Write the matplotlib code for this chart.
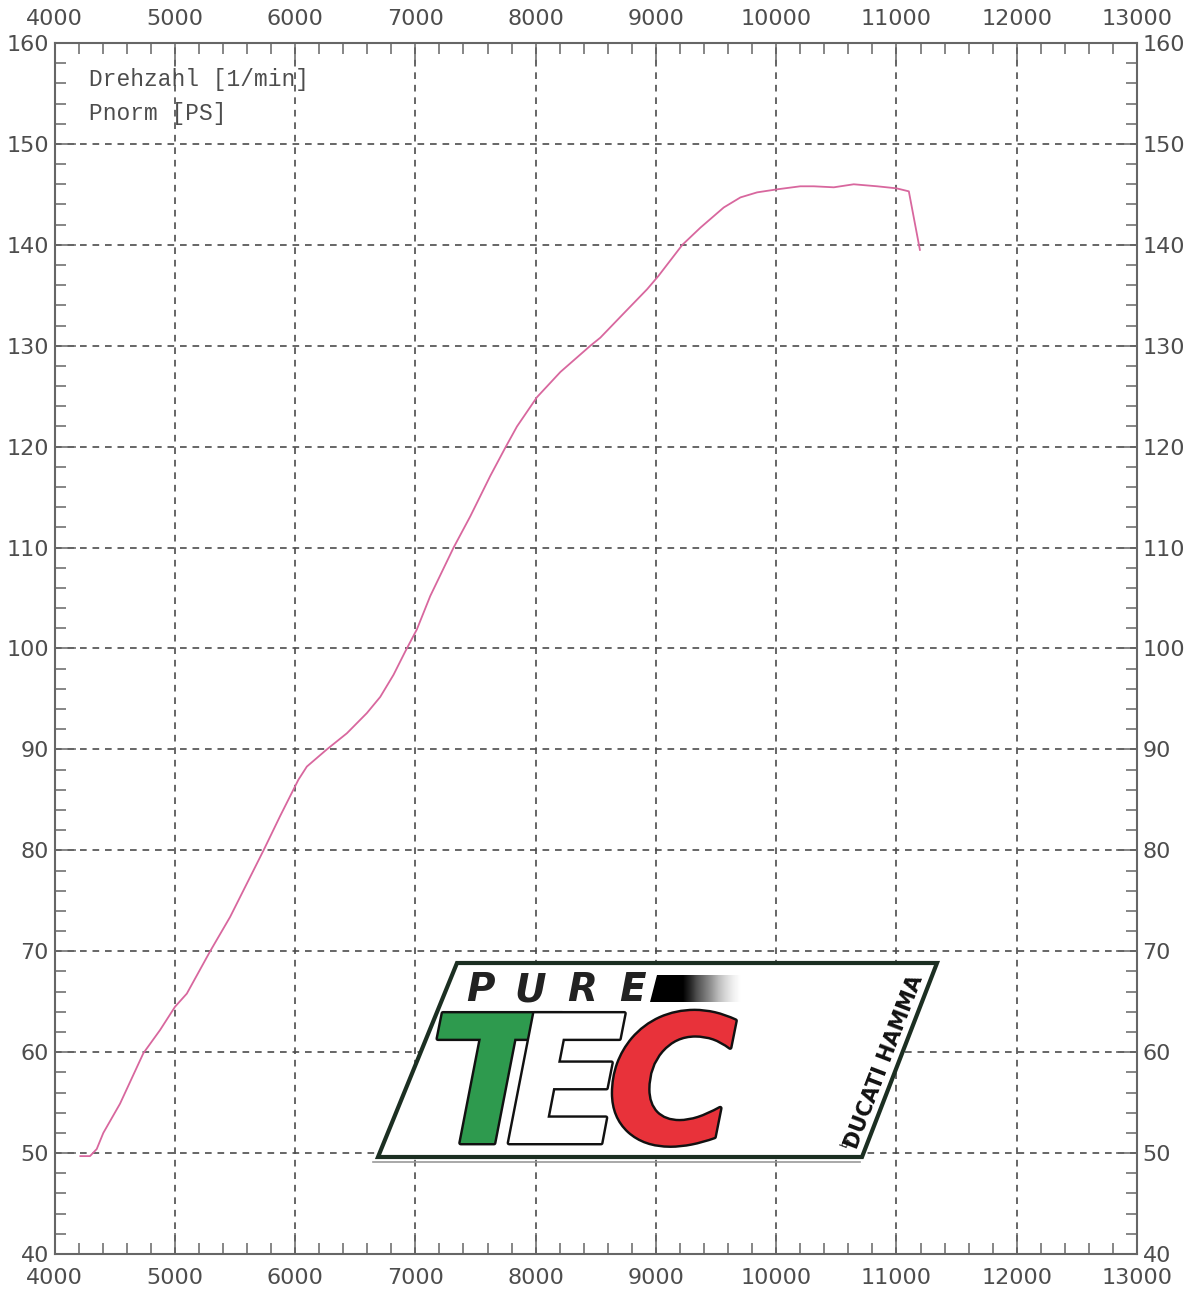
"""
Dyno sheet: Pnorm [PS] over engine speed, with the PureTec sticker on top.
"""
import numpy as np
import matplotlib
matplotlib.use("Agg")
import matplotlib.pyplot as plt
from matplotlib.patches import Polygon
from matplotlib.ticker import MultipleLocator
import matplotlib.patheffects as pe

# engine speed [1/min] and normalised power [PS]
rpm = [4215, 4295, 4351, 4406, 4545, 4739, 4878, 5002, 5100, 5294, 5460, 5599,
       5738, 5876, 6028, 6098, 6264, 6431, 6597, 6708, 6819, 6916, 7013, 7124,
       7318, 7457, 7623, 7748, 7845, 8011, 8206, 8455, 8538, 8732, 8927,
       9020, 9220, 9370, 9564, 9703, 9842, 10008, 10200, 10313, 10479, 10645,
       10840, 11000, 11103, 11195]
pnorm = [49.7, 49.7, 50.4, 52.0, 54.9, 59.9, 62.2, 64.5, 65.8, 70.0, 73.4, 76.7,
         80.0, 83.4, 87.0, 88.3, 90.0, 91.6, 93.6, 95.2, 97.4, 99.7, 101.9, 105.2,
         110.0, 113.1, 117.1, 119.9, 122.0, 124.9, 127.4, 130.0, 130.8, 133.2, 135.6,
         136.9, 140.0, 141.7, 143.7, 144.7, 145.2, 145.5, 145.8, 145.8, 145.7, 146.0,
         145.8, 145.6, 145.3, 139.5]

legend_lines = ["Drehzahl [1/min]", "Pnorm [PS]"]

INK = "#4d4d4d"
CURVE = "#d8679e"

fig = plt.figure(figsize=(11.92, 12.93), dpi=100)
ax = fig.add_axes([54.5 / 1192, 1 - 1254 / 1293, (1137 - 54.5) / 1192, (1254 - 43) / 1293])

ax.plot(rpm, pnorm, color=CURVE, lw=1.3, zorder=3)

ax.set_xlim(4000, 13000)
ax.set_ylim(40, 160)
ax.xaxis.set_major_locator(MultipleLocator(1000))
ax.xaxis.set_minor_locator(MultipleLocator(200))
ax.yaxis.set_major_locator(MultipleLocator(10))
ax.yaxis.set_minor_locator(MultipleLocator(2))

ax.grid(True, which="major", color=INK, lw=1.2, ls=(0, (4, 3.5)))
for s in ax.spines.values():
    s.set_color("#666666")
    s.set_linewidth(1.5)

ax.tick_params(which="both", direction="in", top=True, bottom=True, left=True, right=True,
               color="#666666", width=1.1)
ax.tick_params(which="major", length=15, labelsize=16, labelcolor=INK)
ax.tick_params(which="minor", length=8)
ax.tick_params(axis="x", which="major", labeltop=True, labelbottom=True, pad=10)
ax.tick_params(axis="y", which="major", labelleft=True, labelright=True, pad=4)

for i, t in enumerate(legend_lines):
    ax.text(0.032, 0.970 - i * 0.028, t, transform=ax.transAxes, family="Liberation Mono",
            fontsize=16.5, color=INK, va="center", ha="left")

# sticker, drawn in figure pixel coordinates
ov = fig.add_axes([0, 0, 1, 1], zorder=5)
ov.axis("off")
ov.patch.set_alpha(0)

ov.plot([373, 860], [1162, 1162], color="#9a9a9a", lw=1.2)
ov.add_patch(Polygon([(457, 963), (937, 963), (862, 1157), (378, 1157)], closed=True,
                     facecolor="white", edgecolor="#1c2f22", lw=3, zorder=1))

for ch, x in zip("PURE", [480, 530, 582, 632]):
    ov.text(x, 1001, ch, fontsize=28, fontweight="bold", fontstyle="italic",
            color="#222222", ha="center", va="baseline", zorder=4)

blk = Polygon([(657, 975), (757, 975), (750, 1002), (650, 1002)], closed=True,
              facecolor="none", edgecolor="none")
ov.add_patch(blk)
grad = np.clip(1.6 - 1.9 * np.linspace(0, 1, 200), 0, 1)[None, :]
im = ov.imshow(grad, cmap="Greys", vmin=0, vmax=1, extent=[648, 758, 1002, 975],
               aspect="auto", interpolation="bilinear", zorder=3)
im.set_clip_path(blk)
ov.set_xlim(0, 1192)
ov.set_ylim(1293, 0)

stroke = [pe.withStroke(linewidth=3.5, foreground="#111111")]
for ch, x, col in [("T", 490, "#2e9a4e"), ("E", 566, "white"), ("C", 672, "#e8323a")]:
    ov.text(x, 1143, ch, fontsize=128, fontweight="bold", fontstyle="italic",
            color=col, ha="center", va="baseline", path_effects=stroke, zorder=4)

ov.text(884, 1062, "DUCATI HAMMA", fontsize=15, fontweight="bold", color="#111111",
        rotation=69, ha="center", va="center", rotation_mode="anchor", zorder=4)
ov.text(846, 1142, "by", fontsize=7, color="#111111", rotation=69, ha="center",
        va="center", zorder=4)

fig.savefig("out.png", dpi=100)
